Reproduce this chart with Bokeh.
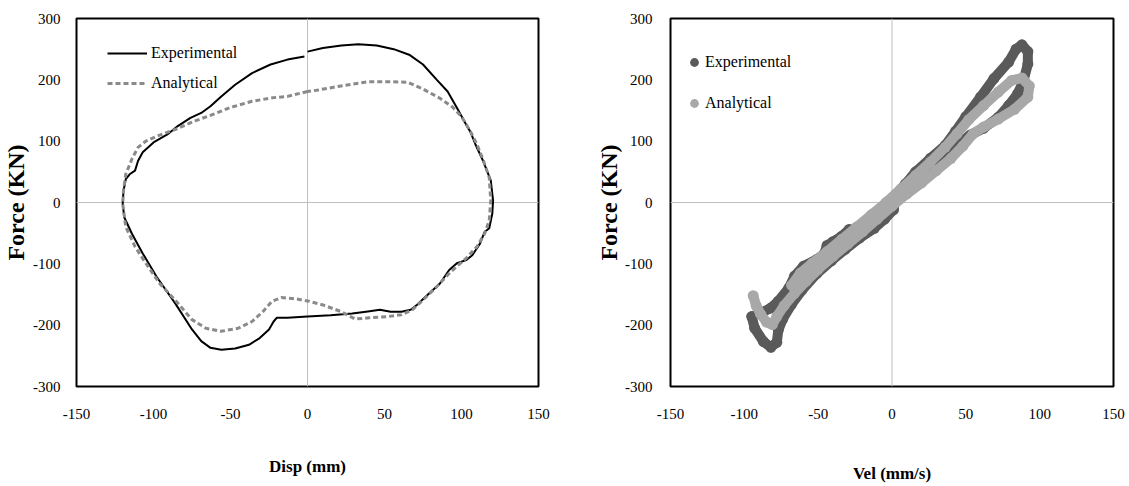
from bokeh.plotting import figure
from bokeh.models import Range1d, FixedTicker, Span, Legend, LegendItem
from bokeh.layouts import row
from bokeh.embed import file_html
from bokeh.resources import INLINE

# ---------------- data ----------------
x_ticks = [-150, -100, -50, 0, 50, 100, 150]
y_ticks = [-300, -200, -100, 0, 100, 200, 300]

# Left chart: Force vs Disp
exp_disp = [0, 10, 22, 33, 45, 56, 66, 75, 84, 91, 98, 103, 106, 109, 114, 119, 120.5,
            120, 118, 115, 112, 107, 103, 97, 92, 86, 77, 71, 67, 61, 54, 47, 38, 29, 15,
            0, -13, -20, -22, -25, -31, -38, -47, -56, -63, -69, -75, -86, -98, -107, -114,
            -119, -120, -119.5, -118, -115.5, -112, -110, -107, -100, -91, -84, -76, -69,
            -63, -56, -47, -36, -24, -13, -2]
exp_force = [246, 252, 256, 258, 256, 250, 241, 225, 200, 181, 150, 127, 114, 95, 68, 36, 3,
             -18, -42, -48, -67, -86, -94, -99, -110, -132, -153, -167, -175, -178, -178,
             -175, -178, -181, -184, -186, -188, -188, -194, -207, -221, -232, -238, -240,
             -237, -226, -207, -164, -121, -83, -51, -24, -2, 19, 38, 46, 52, 68, 82, 98,
             111, 125, 138, 146, 157, 173, 192, 211, 225, 233, 238]

ana_disp = [0, -13, -22, -36, -50, -61, -73, -86, -98, -105, -110, -114, -118, -119.5, -120,
            -118, -112, -105, -96, -86, -75, -66, -56, -45, -36, -29, -23, -17, -8, 1, 10,
            22, 31, 40, 52, 61, 68, 75, 84, 93, 103, 110, 115, 118, 119, 118, 114, 110, 106,
            100, 94, 86, 75, 65, 52, 40, 29, 17, 6, 0]
ana_force = [181, 173, 171, 165, 155, 144, 133, 119, 108, 100, 90, 71, 46, 19, -2, -40, -72,
             -99, -132, -159, -191, -205, -210, -205, -194, -178, -161, -155, -157, -161,
             -167, -178, -190, -188, -186, -183, -175, -159, -137, -113, -91, -72, -51, -29,
             3, 41, 70, 95, 115, 140, 156, 170, 185, 196, 197, 197, 193, 188, 183, 181]

# Right chart: Force vs Vel
exp_vel = [2, 8, 16, 26, 33, 38, 44, 53, 62, 72, 79, 85, 89, 92, 92, 88, 84, 79, 69, 60, 50,
           43, 36, 26, 16, 9, 3, -5, -15, -24, -29, -34, -40, -44, -46, -51, -60, -66, -70,
           -77, -82, -89, -95, -93, -87, -82, -78, -77, -74, -68, -61, -51, -41, -32, -22,
           -12, -5, 1, 2]
exp_vforce = [3, 19, 35, 51, 62, 72, 94, 110, 121, 139, 158, 177, 198, 226, 246, 257, 250,
              229, 202, 172, 140, 116, 93, 72, 50, 30, 14, -12, -32, -46, -44, -55, -64, -70,
              -84, -93, -104, -120, -140, -161, -172, -180, -186, -205, -227, -236, -228,
              -208, -190, -166, -143, -116, -95, -77, -58, -42, -27, -12, 3]

ana_vel = [-94, -92, -89, -85, -81, -78, -73, -66, -58, -50, -40, -30, -20, -10, 0, 10, 20,
           30, 40, 48, 55, 62, 72, 83, 92, 93, 88, 81, 72, 62, 52, 44, 36, 26, 16, 6, -4,
           -14, -24, -34, -44, -54, -62, -68]
ana_vforce = [-152, -168, -182, -195, -199, -186, -168, -148, -128, -109, -88, -68, -48, -27,
              -6, 14, 32, 52, 72, 92, 112, 123, 136, 152, 172, 190, 203, 199, 180, 158, 135,
              112, 90, 66, 44, 22, 0, -20, -40, -60, -80, -99, -115, -135]

# ---------------- styling helpers ----------------
SERIF = "Liberation Serif"
HEIGHT = 485


def base_figure(width, left, right, top, bottom, xlabel, ylab_standoff, lab_standoff, xlab_standoff):
    p = figure(width=width, height=HEIGHT, output_backend="svg", toolbar_location=None,
               x_range=Range1d(-150, 150), y_range=Range1d(-300, 300),
               min_border_left=left, min_border_right=right,
               min_border_top=top, min_border_bottom=bottom)
    p.background_fill_color = "white"
    p.border_fill_color = "white"
    p.outline_line_color = "black"
    p.outline_line_width = 2
    p.xgrid.visible = False
    p.ygrid.visible = False
    for ax in (p.xaxis[0], p.yaxis[0]):
        ax.axis_line_color = None
        ax.major_tick_line_color = None
        ax.minor_tick_line_color = None
        ax.major_label_text_font = SERIF
        ax.major_label_text_font_size = "15px"
        ax.major_label_text_color = "black"
        ax.axis_label_text_font = SERIF
        ax.axis_label_text_font_style = "bold"
        ax.axis_label_text_color = "black"
    p.xaxis.ticker = FixedTicker(ticks=x_ticks)
    p.yaxis.ticker = FixedTicker(ticks=y_ticks)
    p.xaxis.major_label_overrides = {t: str(t) for t in x_ticks}
    p.yaxis.major_label_overrides = {t: str(t) for t in y_ticks}
    p.xaxis.major_label_standoff = 16
    p.xaxis.axis_label = xlabel
    p.xaxis.axis_label_text_font_size = "17px"
    p.xaxis.axis_label_standoff = xlab_standoff
    p.yaxis.axis_label = "Force (KN)"
    p.yaxis.axis_label_text_font_size = "24px"
    p.yaxis.major_label_standoff = lab_standoff
    p.yaxis.axis_label_standoff = ylab_standoff
    p.add_layout(Span(location=0, dimension="width", line_color="#c0c0c0",
                      line_width=1, level="underlay"))
    p.add_layout(Span(location=0, dimension="height", line_color="#c0c0c0",
                      line_width=1, level="underlay"))
    return p


# ---------------- left chart ----------------
p1 = base_figure(556, 73, 18, 18, 98, "Disp (mm)", 1, 10, 35)
r_exp = p1.line(exp_disp, exp_force, line_color="black", line_width=2)
r_ana = p1.line(ana_disp, ana_force, line_color="#8a8a8a", line_width=3, line_dash="5 3")
leg1 = Legend(items=[LegendItem(label="Experimental", renderers=[r_exp]),
                     LegendItem(label="Analytical", renderers=[r_ana])],
              location=(31, 292), glyph_width=40, glyph_height=22, label_standoff=4,
              spacing=8, padding=0, margin=0, border_line_color=None,
              background_fill_alpha=0, label_text_font=SERIF,
              label_text_font_size="16px", label_text_color="black")
p1.add_layout(leg1)

# ---------------- right chart ----------------
p2 = base_figure(573, 114, 16, 13, 98, "Vel (mm/s)", 0, 12, 42)
DARK = "#5a5a5a"
LIGHT = "#a8a8a8"
p2.line(exp_vel, exp_vforce, line_color=DARK, line_width=10, line_join="round", line_cap="round")
s_exp = p2.scatter(exp_vel, exp_vforce, size=11, fill_color=DARK, line_color=None)
p2.line(ana_vel, ana_vforce, line_color=LIGHT, line_width=10, line_join="round", line_cap="round")
s_ana = p2.scatter(ana_vel, ana_vforce, size=11, fill_color=LIGHT, line_color=None)
leg2 = Legend(items=[LegendItem(label="Experimental", renderers=[s_exp]),
                     LegendItem(label="Analytical", renderers=[s_ana])],
              location=(13, 272), glyph_width=22, glyph_height=22, label_standoff=-5,
              spacing=19, padding=0, margin=0, border_line_color=None,
              background_fill_alpha=0, label_text_font=SERIF,
              label_text_font_size="16px", label_text_color="black")
p2.add_layout(leg2)

layout = row(p1, p2)
open("out.html", "w").write(file_html(layout, INLINE))
